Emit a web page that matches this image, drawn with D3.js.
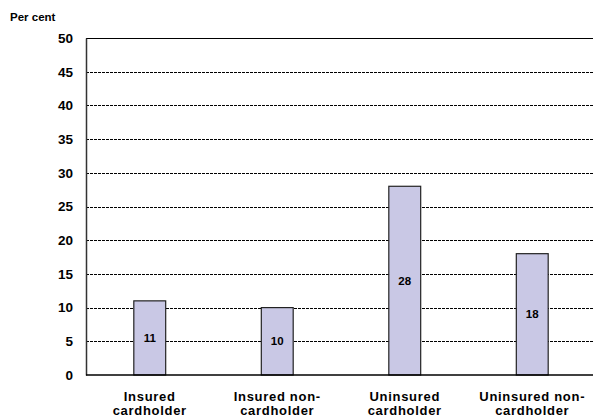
<!DOCTYPE html>
<html><head><meta charset="utf-8">
<script src="https://cdn.jsdelivr.net/npm/d3@7"></script>
<style>body{margin:0;background:#fff;} text{font-family:Arial,"Liberation Sans",sans-serif;font-weight:bold;}</style>
</head><body>
<script>
const categories = [["Insured","cardholder"],["Insured non-","cardholder"],["Uninsured","cardholder"],["Uninsured non-","cardholder"]];
const values = [11, 10, 28, 18];
const yTicks = [0,5,10,15,20,25,30,35,40,45,50];
const yTitle = "Per cent";

const W = 593, H = 419;
const svg = d3.select("body").append("svg").attr("width", W).attr("height", H);
const x0 = 86, x1 = 596, yTop = 38, yBot = 375;
const x = d3.scaleBand().domain(d3.range(values.length)).range([x0, x1]).paddingInner(0.75).paddingOuter(0.375);
const y = d3.scaleLinear().domain([0, 50]).range([yBot, yTop]);

// gridlines
svg.append("g").selectAll("line").data(yTicks.filter(t => t > 0 && t < 50)).join("line")
  .attr("x1", x0).attr("x2", W).attr("y1", d => Math.round(y(d)) + 0.5).attr("y2", d => Math.round(y(d)) + 0.5)
  .attr("stroke", "#000").attr("stroke-width", 1).attr("stroke-dasharray", "3,1");
// top line
svg.append("line").attr("x1", x0).attr("x2", W).attr("y1", Math.round(y(50)) + 0.5).attr("y2", Math.round(y(50)) + 0.5)
  .attr("stroke", "#000").attr("stroke-width", 1);

// bars
svg.append("g").selectAll("rect").data(values).join("rect")
  .attr("x", (d, i) => x(i)).attr("width", x.bandwidth())
  .attr("y", d => y(d)).attr("height", d => y(0) - y(d))
  .attr("fill", "#c9c8e5").attr("stroke", "#222").attr("stroke-width", 1.2);

// value labels
svg.append("g").selectAll("text").data(values).join("text")
  .attr("x", (d, i) => x(i) + x.bandwidth() / 2).attr("y", d => (y(d) + y(0)) / 2 + 4)
  .attr("text-anchor", "middle").attr("font-size", 11.5).text(d => d);

// y axis
const yAxis = d3.axisLeft(y).tickValues(yTicks).tickSize(0).tickPadding(13);
const ga = svg.append("g").attr("transform", `translate(${x0},0)`).call(yAxis);
ga.select(".domain").attr("stroke", "#333").attr("stroke-width", 1.5);
ga.selectAll("text").attr("font-size", 13.5).attr("fill", "#000").style("font-weight", "bold");

// x axis line
svg.append("line").attr("x1", x0).attr("x2", W).attr("y1", yBot).attr("y2", yBot).attr("stroke", "#000").attr("stroke-width", 1.5);

// category labels
const cl = svg.append("g").selectAll("text").data(categories).join("text")
  .attr("x", (d, i) => x(i) + x.bandwidth() / 2).attr("y", 401)
  .attr("text-anchor", "middle").attr("font-size", 13).attr("letter-spacing", "0.7px");
cl.selectAll("tspan").data(d => d).join("tspan")
  .attr("x", function(){ return this.parentNode.getAttribute("x"); })
  .attr("dy", (d, i) => i === 0 ? 0 : 14).text(d => d);

// title
svg.append("text").attr("x", 10).attr("y", 21).attr("font-size", 11.5).text(yTitle);
</script>
</body></html>
